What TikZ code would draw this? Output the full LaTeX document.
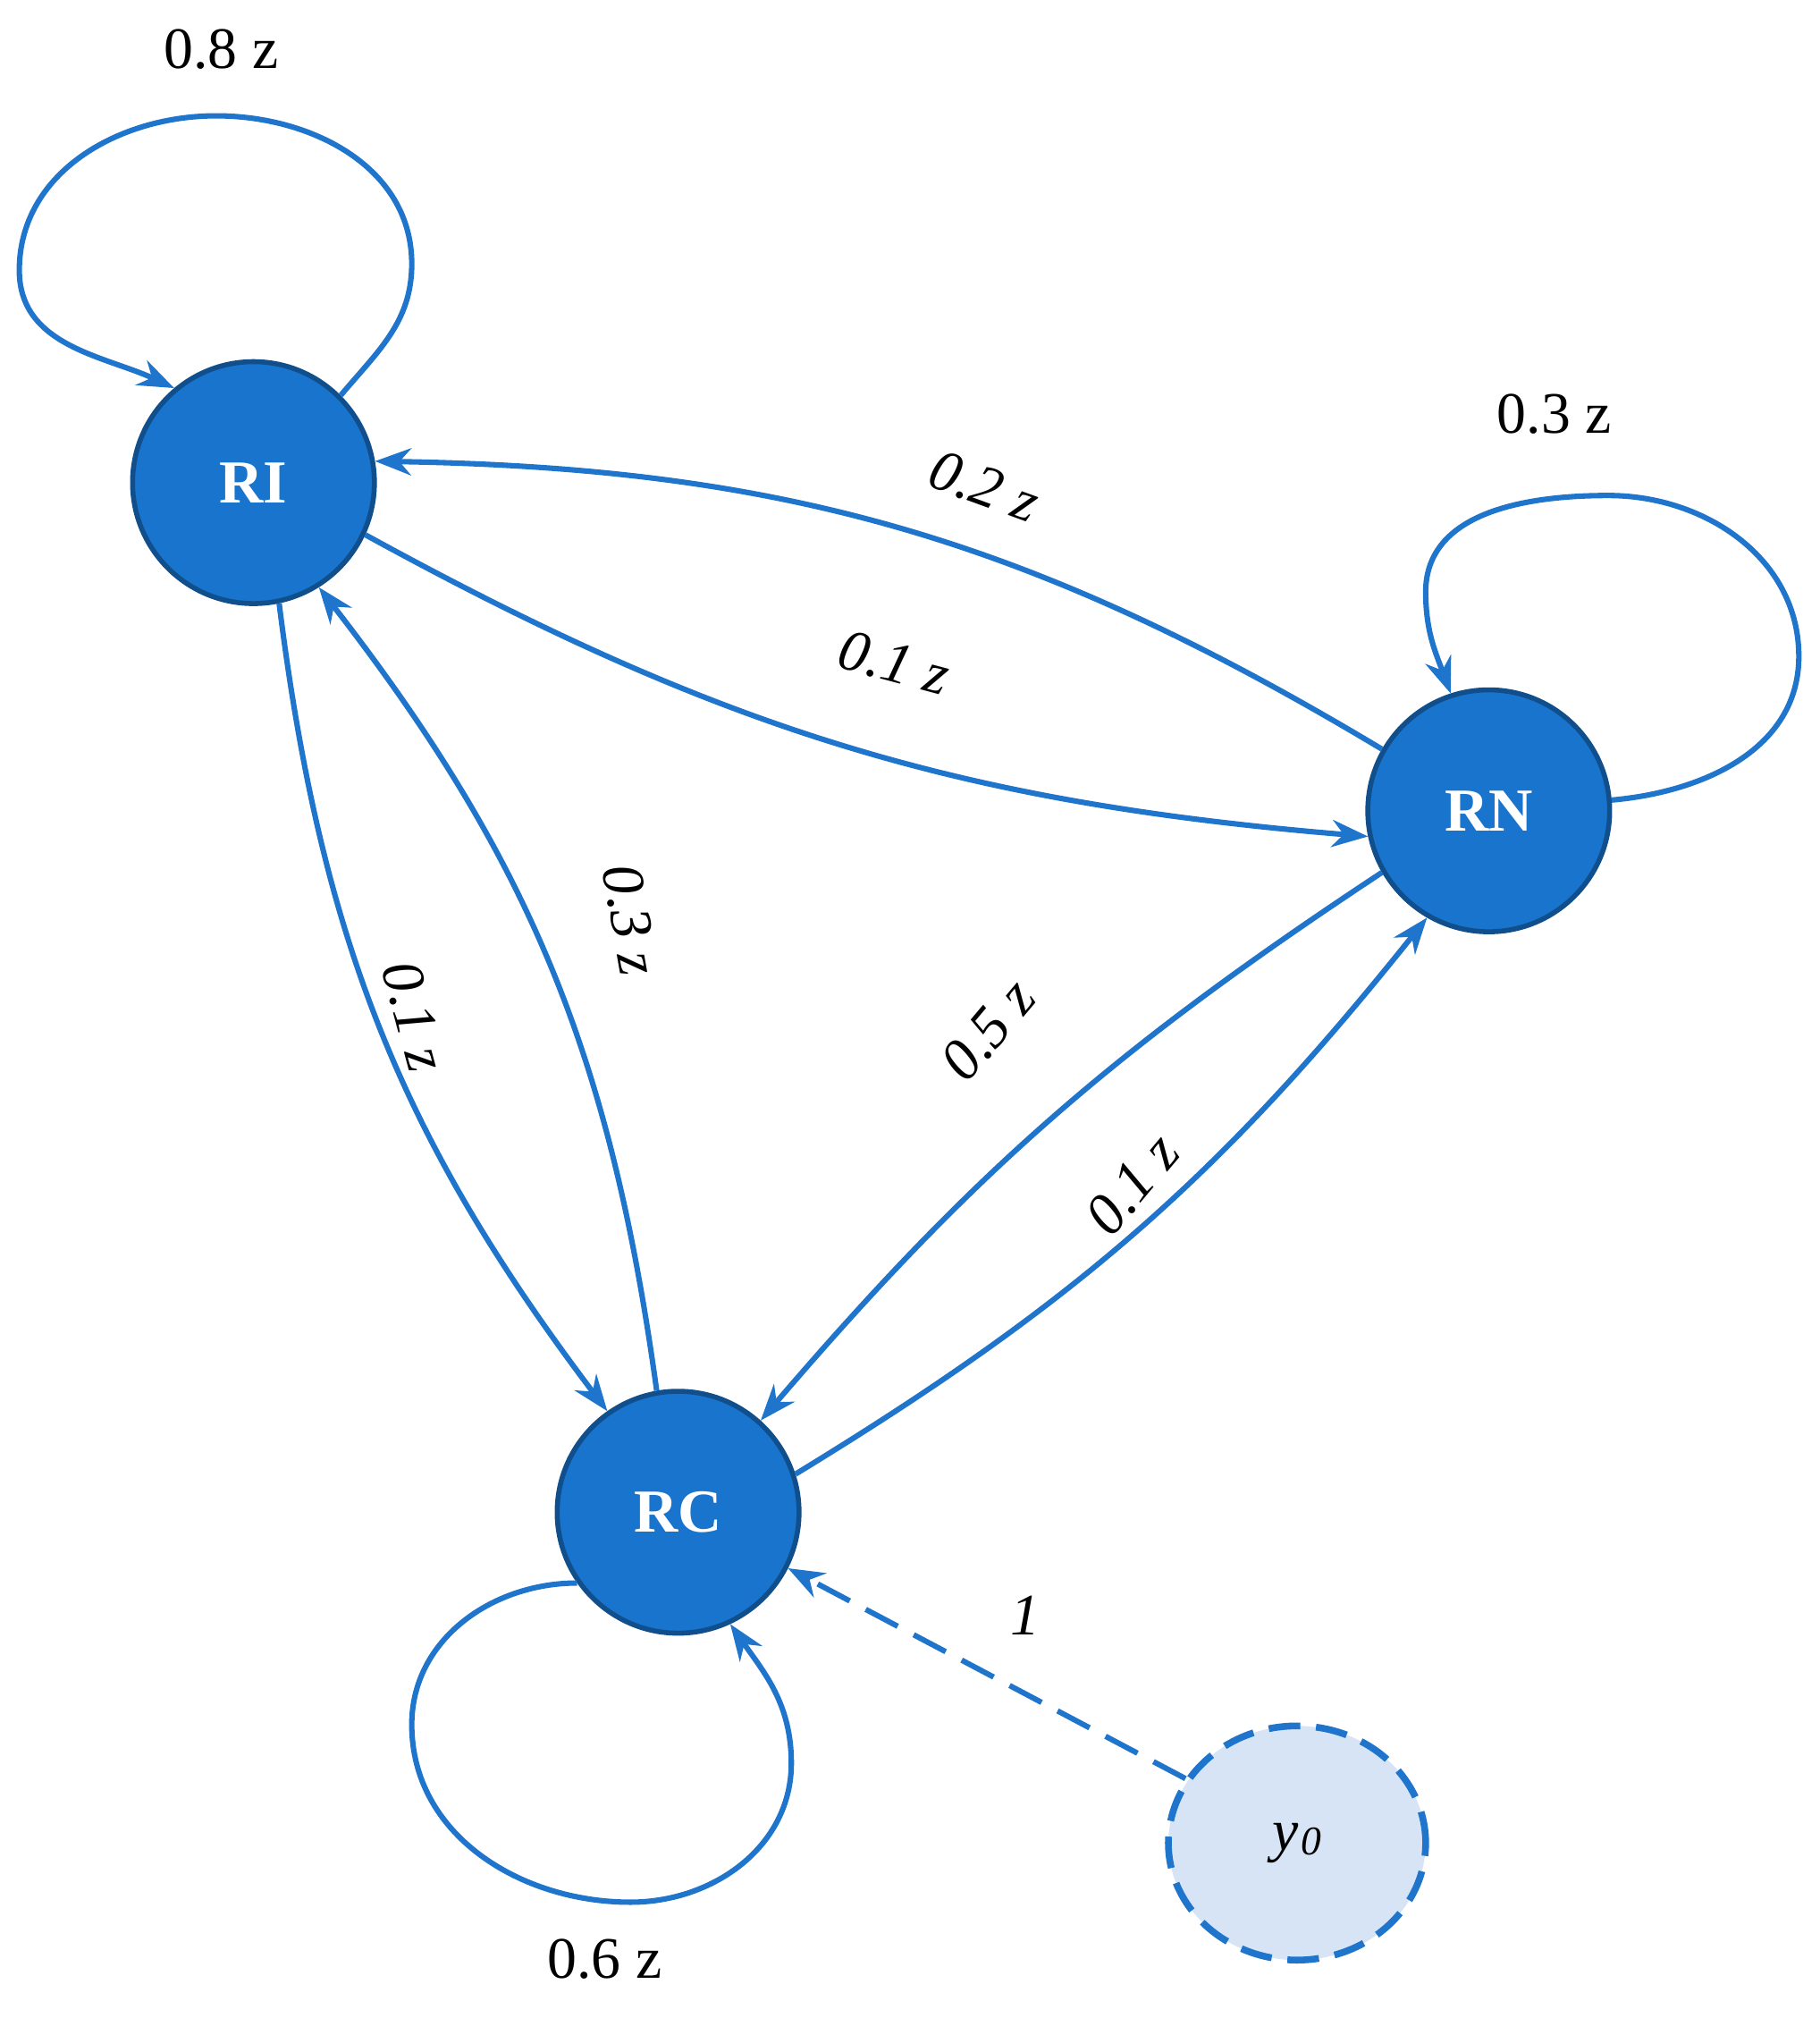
\documentclass[tikz,border=0pt]{standalone}
\usepackage{fontspec}
\setmainfont{Liberation Serif}
\usetikzlibrary{arrows.meta,shapes.geometric}
\definecolor{edge}{HTML}{1F74CC}
\definecolor{nfill}{HTML}{1874CD}
\definecolor{nbord}{HTML}{114E8C}
\definecolor{yfill}{HTML}{D6E4F5}
\begin{document}
\begin{tikzpicture}[x=0.02cm,y=0.02cm,
  st/.style={circle,fill=nfill,draw=nbord,line width=2.2pt,minimum size=3.76cm,inner sep=0,text=white,font=\fontsize{27}{30}\selectfont\bfseries},
  e/.style={draw=edge,line width=2.4pt,-{Stealth[length=16pt,width=12pt]}},
  lb/.style={font=\fontsize{26}{30}\selectfont},
  il/.style={font=\fontsize{26}{30}\selectfont\itshape}]
\useasboundingbox (0,0) rectangle (1414,-1568);
\node[st] (RI) at (197,-375) {RI};
\node[st] (RN) at (1157,-630) {RN};
\node[st] (RC) at (527,-1175) {RC};
\node[ellipse,fill=yfill,draw=edge,line width=3pt,dash pattern=on 14pt off 7pt,minimum width=4cm,minimum height=3.64cm,inner sep=0,font=\fontsize{26}{30}\selectfont\itshape] (Y) at (1008,-1432) {y\kern1pt\raisebox{-2pt}{\fontsize{18}{20}\selectfont 0}};
\coordinate (a1) at (320,-205); \coordinate (a2) at (168,-90); \coordinate (a3) at (15,-210);
\draw[e] (RI.45) to[out=50,in=-90] (a1) to[out=90,in=0] (a2) to[out=180,in=90] (a3) to[out=-90,in=155] (RI.130);
\coordinate (b1) at (1398,-510); \coordinate (b2) at (1250,-385); \coordinate (b3) at (1108,-460);
\draw[e] (RN.5) to[out=5,in=-90] (b1) to[out=90,in=0] (b2) to[out=180,in=90] (b3) to[out=-90,in=110] (RN.108);
\coordinate (c1) at (320,-1340); \coordinate (c2) at (490,-1478); \coordinate (c3) at (615,-1370);
\draw[e] (RC.215) to[out=180,in=90] (c1) to[out=-90,in=180] (c2) to[out=0,in=-90] (c3) to[out=90,in=-55] (RC.-65);
\draw[e] (RN.150) to[bend right=15] (RI.10);
\draw[e] (RI.-25) to[bend right=12] (RN.192);
\draw[e] (RI.-78) to[bend right=15] (RC.125);
\draw[e] (RC.100) to[bend right=15] (RI.-58);
\draw[e] (RN.210) to[bend right=8] (RC.48);
\draw[e] (RC.18) to[bend right=10] (RN.240);
\draw[e,dash pattern=on 16pt off 8pt] (Y.150) -- (RC.-27);
\node[lb] (l1) at (172,-38) {0.8 z};
\node[lb] (l2) at (1208,-322) {0.3 z};
\node[lb] (l3) at (470,-1522) {0.6 z};
\node[il,rotate=-20] (l4) at (765,-378) {0.2 z};
\node[il,rotate=-15] (l5) at (695,-515) {0.1 z};
\node[il,rotate=-75] (l6) at (322,-790) {0.1 z};
\node[il,rotate=-80] (l7) at (490,-715) {0.3 z};
\node[il,rotate=50] (l8) at (768,-800) {0.5 z};
\node[il,rotate=50] (l9) at (880,-920) {0.1 z};
\node[il] (l10) at (797,-1255) {1};
\end{tikzpicture}
\end{document}
